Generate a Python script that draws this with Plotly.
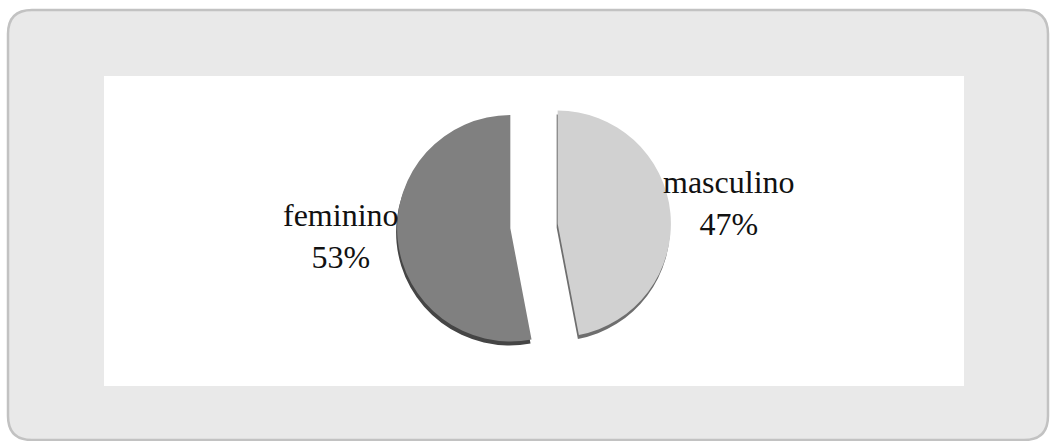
import plotly.graph_objects as go

# Survey share by sex
categories = ["masculino", "feminino"]
percentages = [47, 53]

W, H = 1050, 441
slice_colors = ["#d1d1d1", "#808080"]
rim_colors = ["#6e6e6e", "#454545"]
pull = 0.21


def px_x(v):
    return v / W


def px_y(v):
    return 1 - v / H


def rounded_rect(x0, y0, x1, y1, r):
    # SVG path of a rounded rectangle in paper coordinates
    rx, ry = r / W, r / H
    X0, X1 = px_x(x0), px_x(x1)
    Y0, Y1 = px_y(y0), px_y(y1)
    return (
        f"M {X0 + rx},{Y0} L {X1 - rx},{Y0} Q {X1},{Y0} {X1},{Y0 - ry} "
        f"L {X1},{Y1 + ry} Q {X1},{Y1} {X1 - rx},{Y1} "
        f"L {X0 + rx},{Y1} Q {X0},{Y1} {X0},{Y1 + ry} "
        f"L {X0},{Y0 - ry} Q {X0},{Y0} {X0 + rx},{Y0} Z"
    )


# pie box in pixels (centre and half-size including pull)
cx, cy, half = 534, 226, 137


def domain(dx=0, dy=0):
    return dict(
        x=[px_x(cx - half + dx), px_x(cx + half + dx)],
        y=[px_y(cy + half + dy), px_y(cy - half + dy)],
    )


fig = go.Figure()

# darker copy slightly lower gives the rim under each slice
fig.add_trace(go.Pie(
    labels=categories, values=percentages, sort=False, direction="clockwise",
    rotation=0, pull=pull, domain=domain(-1, 4), textinfo="none",
    marker=dict(colors=rim_colors, line=dict(width=0)),
    hoverinfo="skip", showlegend=False,
))
fig.add_trace(go.Pie(
    labels=categories, values=percentages, sort=False, direction="clockwise",
    rotation=0, pull=pull, domain=domain(), textinfo="none",
    marker=dict(colors=slice_colors, line=dict(width=0)),
    hovertemplate="%{label}: %{value}%<extra></extra>", showlegend=False,
))

label_pos = {"feminino": (341, 236), "masculino": (729, 203)}
for name, val in zip(categories, percentages):
    x, y = label_pos[name]
    fig.add_annotation(
        x=px_x(x), y=px_y(y), xref="paper", yref="paper",
        text=f"{name}<br>{val}%", showarrow=False,
        xanchor="center", yanchor="middle", align="center",
        font=dict(family="Liberation Serif", size=32, color="#111111"),
    )

fig.update_layout(
    width=W, height=H,
    margin=dict(l=0, r=0, t=0, b=0),
    paper_bgcolor="#ffffff",
    plot_bgcolor="#ffffff",
    shapes=[
        dict(type="path", xref="paper", yref="paper", layer="below",
             path=rounded_rect(8, 10, 1048, 440, 24),
             fillcolor="#e9e9e9", line=dict(color="#c2c2c2", width=2.5)),
        dict(type="rect", xref="paper", yref="paper", layer="below",
             x0=px_x(104), x1=px_x(964), y0=px_y(386), y1=px_y(76),
             fillcolor="#ffffff", line=dict(width=0)),
    ],
)

fig.write_html("out.html")
